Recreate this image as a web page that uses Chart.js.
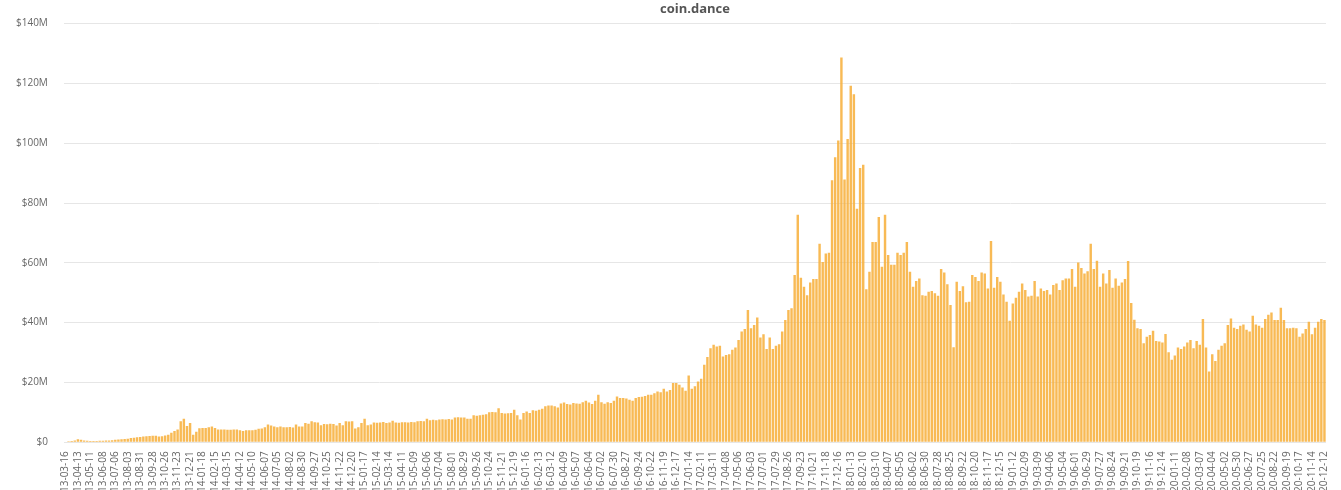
<!DOCTYPE html>
<html>
<head>
<meta charset="utf-8">
<script src="https://cdn.jsdelivr.net/npm/chart.js@4.4.1/dist/chart.umd.min.js"></script>
<style>
  html, body { margin: 0; padding: 0; background: #fff; }
  #wrap { width: 1341px; height: 490px; }
</style>
</head>
<body>
<div id="wrap"><canvas id="grafico"></canvas></div>
<script>
// Semana inicial (sábado) e número de semanas
const dataInicial = '2013-03-16';

// Volume semanal em milhões de dólares
const volumes = [
  0.2, 0.3, 0.4, 0.6, 1.0, 0.8, 0.6, 0.5, 0.4, 0.4,
  0.4, 0.5, 0.5, 0.6, 0.6, 0.7, 0.8, 0.9, 1.0, 1.1,
  1.2, 1.4, 1.5, 1.7, 1.8, 1.9, 2.0, 2.1, 2.2, 2.2,
  1.9, 2.0, 2.3, 2.5, 3.2, 3.8, 4.3, 7.0, 7.9, 5.4,
  6.4, 2.5, 3.5, 4.7, 4.8, 4.8, 5.0, 5.3, 4.8, 4.3,
  4.3, 4.3, 4.2, 4.2, 4.3, 4.3, 4.0, 3.8, 4.0, 4.0,
  4.0, 4.2, 4.5, 4.6, 5.0, 5.9, 5.6, 5.3, 5.0, 5.3,
  5.0, 5.0, 5.1, 4.9, 5.9, 5.3, 5.3, 6.4, 6.2, 7.0,
  6.7, 6.6, 5.7, 6.1, 6.0, 6.2, 6.1, 5.6, 6.4, 5.7,
  7.0, 6.9, 7.0, 4.6, 5.0, 6.4, 7.9, 5.7, 5.9, 6.6,
  6.5, 6.6, 6.8, 6.4, 6.6, 7.2, 6.6, 6.5, 6.7, 6.7,
  6.6, 6.8, 6.7, 7.0, 7.1, 7.0, 7.9, 7.4, 7.5, 7.4,
  7.6, 7.7, 7.6, 7.8, 7.6, 8.3, 8.4, 8.3, 8.3, 7.9,
  7.9, 9.0, 8.9, 9.0, 9.2, 9.4, 10.0, 10.1, 10.0, 11.4,
  9.8, 9.6, 9.7, 9.8, 10.9, 9.0, 7.6, 9.8, 10.3, 9.8,
  10.7, 10.5, 10.9, 11.2, 12.0, 12.3, 12.3, 12.0, 11.6, 13.0,
  13.3, 12.8, 12.6, 13.1, 13.0, 12.9, 13.4, 13.9, 13.3, 12.8,
  13.9, 15.9, 13.4, 12.9, 13.4, 13.1, 13.9, 15.3, 14.8, 14.8,
  14.6, 14.2, 13.9, 14.8, 15.1, 15.2, 15.5, 15.9, 15.9, 16.4,
  17.0, 16.7, 17.9, 17.0, 17.5, 19.8, 19.8, 19.2, 18.3, 17.2,
  22.3, 17.9, 18.7, 20.3, 21.2, 25.9, 28.5, 31.4, 32.6, 32.0,
  32.3, 28.7, 29.2, 29.4, 30.9, 31.7, 34.2, 37.0, 37.9, 44.2,
  38.1, 39.2, 41.7, 35.0, 36.1, 31.2, 35.0, 31.2, 32.3, 32.8,
  37.0, 40.9, 44.2, 44.8, 55.9, 76.1, 55.0, 52.0, 49.2, 53.4,
  54.6, 54.6, 66.4, 60.3, 63.1, 63.4, 87.6, 95.3, 100.9, 128.7,
  87.9, 101.4, 119.2, 116.4, 78.1, 91.7, 92.8, 51.2, 57.0, 67.0,
  67.0, 75.3, 58.7, 76.1, 62.6, 59.4, 59.4, 63.4, 62.6, 63.4,
  67.0, 57.0, 52.0, 53.9, 54.8, 49.2, 49.0, 50.3, 50.6, 49.8,
  49.0, 57.9, 56.8, 52.8, 45.9, 31.8, 53.7, 50.6, 52.2, 46.8,
  47.0, 55.9, 55.3, 53.9, 56.8, 56.4, 51.4, 67.3, 51.7, 55.3,
  53.7, 49.4, 47.0, 40.6, 46.4, 48.3, 50.3, 53.1, 50.9, 48.7,
  49.0, 53.9, 48.7, 51.4, 50.6, 50.9, 49.4, 52.6, 53.1, 50.9,
  54.2, 54.8, 54.8, 57.9, 52.0, 60.1, 58.3, 56.4, 57.2, 66.4,
  57.9, 60.7, 52.0, 56.4, 53.1, 57.6, 51.7, 54.8, 52.3, 53.4,
  54.6, 60.6, 46.6, 41.0, 38.1, 37.9, 33.1, 35.3, 35.9, 37.3,
  33.9, 33.7, 33.4, 36.2, 30.1, 27.6, 29.0, 31.7, 31.2, 32.0,
  33.4, 34.2, 31.4, 33.9, 32.6, 41.2, 31.7, 23.7, 29.4, 27.2,
  30.9, 32.3, 33.1, 39.2, 41.4, 38.3, 37.9, 39.0, 39.4, 37.6,
  37.0, 42.3, 39.4, 39.0, 38.3, 41.2, 42.6, 43.4, 40.9, 40.9,
  45.0, 40.9, 38.1, 38.1, 38.3, 38.1, 35.3, 36.4, 37.9, 40.3,
  36.1, 38.3, 40.3, 41.2, 40.9
];

// Rótulos semanais no formato AA-MM-DD (um por barra)
const semanas = [];
const inicio = new Date(dataInicial + 'T00:00:00Z');
for (let i = 0; i < volumes.length; i++) {
  const d = new Date(inicio.getTime() + i * 7 * 86400000);
  const aa = String(d.getUTCFullYear()).slice(2);
  const mm = String(d.getUTCMonth() + 1).padStart(2, '0');
  const dd = String(d.getUTCDate()).padStart(2, '0');
  semanas.push(aa + '-' + mm + '-' + dd);
}

const fonte = "'Open Sans', sans-serif";

new Chart(document.getElementById('grafico').getContext('2d'), {
  type: 'bar',
  data: {
    labels: semanas,
    datasets: [{
      label: 'Volume',
      data: volumes,
      backgroundColor: 'rgba(247, 176, 62, 0.88)',
      borderWidth: 0,
      barPercentage: 0.78,
      categoryPercentage: 1.0
    }]
  },
  options: {
    responsive: true,
    maintainAspectRatio: false,
    animation: false,
    layout: { padding: { left: 0, right: 15, top: 0, bottom: -3 } },
    plugins: {
      legend: { display: false },
      tooltip: { enabled: false },
      title: {
        display: true,
        text: 'coin.dance',
        fullSize: false,
        color: '#555',
        font: { family: fonte, size: 13, weight: 'bold' },
        padding: { top: 1, bottom: 7 }
      }
    },
    scales: {
      x: {
        grid: { display: false },
        border: { display: false },
        ticks: {
          autoSkip: false,
          minRotation: 90,
          maxRotation: 90,
          padding: 1,
          color: '#666',
          font: { family: fonte, size: 10 },
          callback: function (v, i) { return i % 4 === 0 ? semanas[i] : ''; }
        }
      },
      y: {
        min: 0,
        max: 140,
        border: { display: false },
        grid: { color: '#e6e6e6', drawTicks: false },
        ticks: {
          stepSize: 20,
          padding: 16,
          color: '#666',
          font: { family: fonte, size: 10 },
          callback: function (v) { return v === 0 ? '$0' : '$' + v + 'M'; }
        }
      }
    }
  }
});
</script>
</body>
</html>
